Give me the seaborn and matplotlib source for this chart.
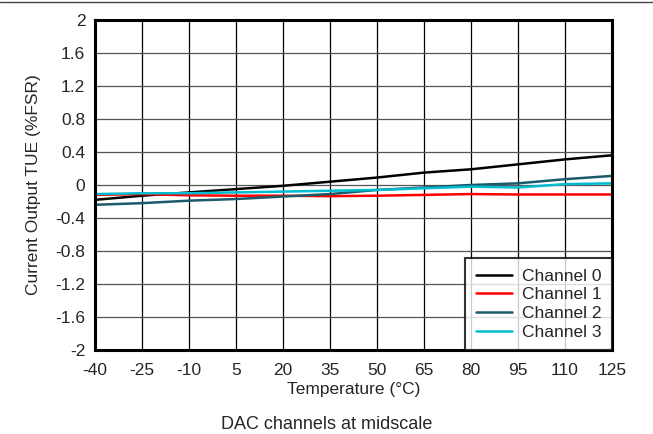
import numpy as np
import pandas as pd
import matplotlib
matplotlib.use("Agg")
import matplotlib.pyplot as plt
import seaborn as sns
from matplotlib.lines import Line2D

temps = [-40, -25, -10, 5, 20, 35, 50, 65, 80, 95, 110, 125]
ch0 = [-0.18, -0.13, -0.09, -0.05, -0.01, 0.04, 0.09, 0.15, 0.19, 0.25, 0.31, 0.36]
ch1 = [-0.12, -0.11, -0.125, -0.13, -0.13, -0.135, -0.13, -0.12, -0.11, -0.115, -0.115, -0.115]
ch2 = [-0.24, -0.22, -0.19, -0.17, -0.14, -0.11, -0.06, -0.03, 0.0, 0.02, 0.07, 0.11]
ch3 = [-0.11, -0.10, -0.10, -0.09, -0.08, -0.07, -0.06, -0.04, -0.02, -0.03, 0.01, 0.02]

yticks = [-2, -1.6, -1.2, -0.8, -0.4, 0, 0.4, 0.8, 1.2, 1.6, 2]
ytick_labels = ["-2", "-1.6", "-1.2", "-0.8", "-0.4", "0", "0.4", "0.8", "1.2", "1.6", "2"]

channels = ["Channel 0", "Channel 1", "Channel 2", "Channel 3"]
colours = ["#000000", "#ff0000", "#1b5a6a", "#00bcd0"]

df = pd.DataFrame({"temp": temps, "Channel 0": ch0, "Channel 1": ch1,
                   "Channel 2": ch2, "Channel 3": ch3})
long_df = df.melt(id_vars="temp", var_name="channel", value_name="tue")

sns.set_style("white")
plt.rcParams['font.family'] = ['Liberation Sans', 'DejaVu Sans']
plt.rcParams['axes.unicode_minus'] = False

fig = plt.figure(figsize=(6.53, 4.34), dpi=100)
ax = fig.add_axes([0.1455, 0.1935, 0.7915, 0.7605])

sns.lineplot(data=long_df, x="temp", y="tue", hue="channel", hue_order=channels,
             palette=colours, linewidth=1.8, ax=ax, legend=False)

ax.set_xlim(-40, 125)
ax.set_ylim(-2, 2)
ax.set_xticks(temps)
ax.set_xticklabels([str(t) for t in temps])
ax.set_yticks(yticks)
ax.set_yticklabels(ytick_labels)
ax.tick_params(labelsize=12.5, length=0)
ax.tick_params(axis="x", pad=9)
ax.tick_params(axis="y", pad=7)

# grid: black verticals, grey horizontals
for t in temps[1:-1]:
    ax.axvline(t, color="black", linewidth=0.9, zorder=0)
for v in yticks[1:-1]:
    ax.axhline(v, color="#555555", linewidth=0.9, zorder=0)

for s in ax.spines.values():
    s.set_linewidth(2.2)
    s.set_color("black")

ax.set_xlabel("Temperature (°C)", fontsize=12.5, labelpad=3)
ax.set_ylabel("Current Output TUE (%FSR)", fontsize=12.5, labelpad=10)

handles = [Line2D([0], [0], color=c, linewidth=1.8) for c in colours]
leg = ax.legend(handles, channels, loc="lower right", fontsize=12.5, frameon=True,
                fancybox=False, borderaxespad=0, handlelength=2.1,
                labelspacing=0.2, borderpad=0.6, handletextpad=0.55)
leg.get_frame().set_edgecolor("black")
leg.get_frame().set_linewidth(1.5)

fig.text(0.5, 0.012, "DAC channels at midscale", ha="center", fontsize=13)
fig.add_artist(Line2D([0, 1], [0.995, 0.995], color="#444444", linewidth=1.0,
                      transform=fig.transFigure))

fig.savefig("out.png", dpi=100)
